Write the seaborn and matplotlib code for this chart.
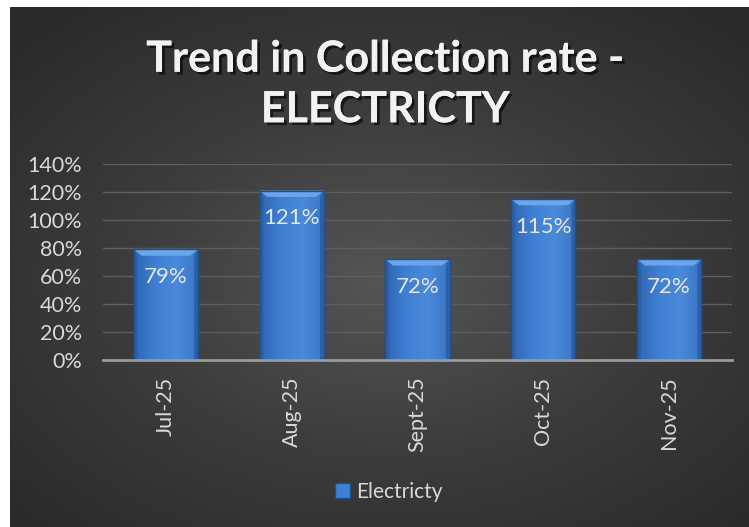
import numpy as np
import pandas as pd
import matplotlib
matplotlib.use("Agg")
import matplotlib.pyplot as plt
import matplotlib.patheffects as pe
from matplotlib.colors import LinearSegmentedColormap
import seaborn as sns

# Monthly collection rate for electricity (percent)
months = ["Jul-25", "Aug-25", "Sept-25", "Oct-25", "Nov-25"]
rates = [79, 121, 72, 115, 72]
y_ticks = [0, 20, 40, 60, 80, 100, 120, 140]
series_name = "Electricty"
title_text = "Trend in Collection rate -\nELECTRICTY"

df = pd.DataFrame({"month": months, "rate": rates})

sns.set_theme(style="dark")
plt.rcParams["font.family"] = ["Lato", "DejaVu Sans"]

W, H = 749, 527
fig = plt.figure(figsize=(W / 100, H / 100), dpi=100)
fig.patch.set_facecolor("white")

# Dark radial-gradient backdrop
bg = fig.add_axes([10 / W, 0, (W - 11) / W, (H - 7) / H], zorder=0)
gx, gy = np.meshgrid(np.linspace(-1, 1, 400), np.linspace(-1, 1, 300))
r = np.sqrt(((gx - 0.02) / 1.05) ** 2 + ((gy - 0.05) / 1.0) ** 2)
bg_cmap = LinearSegmentedColormap.from_list("bg", ["#555555", "#3c3c3c", "#2a2a2a"])
bg.imshow(np.clip(r / 1.35, 0, 1), cmap=bg_cmap, aspect="auto", vmin=0, vmax=1,
          interpolation="bilinear")
bg.set_axis_off()

ax = fig.add_axes([103 / W, 1 - 360 / H, (732 - 103) / W, (360 - 164) / H], zorder=1)
ax.patch.set_alpha(0)

sns.barplot(data=df, x="month", y="rate", ax=ax, color="#3a78c9", width=0.51,
            edgecolor="#1e4f91", linewidth=1.0, saturation=1, zorder=3)

# Give each bar a soft horizontal shading and a lighter bevel along the top
shade = LinearSegmentedColormap.from_list("bar", ["#2f66b3", "#3f80d4", "#4a8ad9", "#3a76c6"])
for patch in ax.patches:
    x0, y0 = patch.get_x(), patch.get_y()
    w, h = patch.get_width(), patch.get_height()
    grad = np.linspace(0, 1, 64).reshape(1, -1)
    im = ax.imshow(grad, cmap=shade, aspect="auto", extent=[x0, x0 + w, y0, y0 + h],
                   zorder=3.5, interpolation="bicubic")
    im.set_clip_path(patch)
    bevel = plt.Polygon([[x0, y0 + h], [x0 + w, y0 + h],
                         [x0 + w * 0.88, y0 + h - 4.5], [x0 + w * 0.12, y0 + h - 4.5]],
                        closed=True, facecolor="#6aa6ea", edgecolor="none", zorder=3.6)
    ax.add_patch(bevel)
    side_l = plt.Polygon([[x0, y0], [x0, y0 + h], [x0 + w * 0.06, y0 + h - 4.5],
                          [x0 + w * 0.06, y0]], closed=True, facecolor="#2c5fa6",
                         edgecolor="none", zorder=3.6)
    side_r = plt.Polygon([[x0 + w, y0], [x0 + w, y0 + h], [x0 + w * 0.94, y0 + h - 4.5],
                          [x0 + w * 0.94, y0]], closed=True, facecolor="#2c5fa6",
                         edgecolor="none", zorder=3.6)
    ax.add_patch(side_l)
    ax.add_patch(side_r)
    ax.add_patch(plt.Rectangle((x0, y0), w, h, facecolor="none", edgecolor="#1e4f91",
                               linewidth=1.0, zorder=3.7))

for i, v in enumerate(rates):
    ax.annotate(f"{v}%", xy=(i, v), xytext=(0, -20), textcoords="offset points",
                ha="center", va="center", fontsize=16, color="#e6e6e6", zorder=5)

ax.set_xlim(-0.5, len(months) - 0.5)
ax.set_ylim(0, 140)
ax.set_yticks(y_ticks)
ax.set_yticklabels([f"{t}%" for t in y_ticks])
ax.grid(axis="y", color="#5e5e5e", linewidth=1.0, zorder=0)
ax.grid(axis="x", visible=False)
for side in ["top", "right", "left"]:
    ax.spines[side].set_visible(False)
ax.spines["bottom"].set_color("#9a9a9a")
ax.spines["bottom"].set_linewidth(2.0)
ax.spines["bottom"].set_zorder(4)
ax.tick_params(axis="y", length=0, pad=15, labelsize=15.5, labelcolor="#d9d9d9")
ax.tick_params(axis="x", length=0, pad=12, labelsize=15.5, labelcolor="#d9d9d9",
               labelrotation=90)
ax.set_xlabel("")
ax.set_ylabel("")

# Title with drop shadow
fig.text(385 / W, 1 - 84 / H, title_text, ha="center", va="center", fontsize=31,
         fontweight="bold", color="#f2f2f2", linespacing=1.32,
         path_effects=[pe.withSimplePatchShadow(offset=(2, -2), shadow_rgbFace="black",
                                                alpha=0.6), pe.Normal()])

# Legend
handle = plt.Rectangle((0, 0), 1, 1, facecolor="#3f80d4", edgecolor="#1e4f91")
fig.legend([handle], [series_name], loc="center", bbox_to_anchor=(389 / W, 1 - 492 / H),
           frameon=False, fontsize=15, labelcolor="#d9d9d9", handlelength=0.7,
           handleheight=0.7, handletextpad=0.3)

fig.savefig("out.png", dpi=100)
